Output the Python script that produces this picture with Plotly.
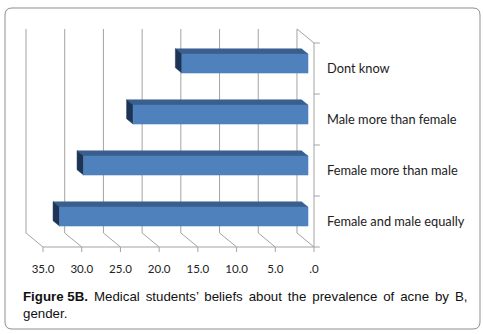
import plotly.graph_objects as go

# ---------------- data ----------------
categories = ["Female and male equally", "Female more than male",
              "Male more than female", "Dont know"]
values = [32.1, 29.0, 22.6, 16.3]
tick_values = [0, 5, 10, 15, 20, 25, 30, 35]
tick_labels = [".0", "5.0", "10.0", "15.0", "20.0", "25.0", "30.0", "35.0"]
caption_bold = "Figure 5B."
caption_line1 = "Medical students\u2019 beliefs about the prevalence of acne by B,"
caption_line2 = "gender."

# ---------------- layout geometry (pixels) ----------------
W, HGT = 483, 334
L, R, T, B = 15, 322, 25, 252
X_RANGE = [38.62, -1.033]
Y_RANGE = [-0.598, 3.853]

# oblique projection for the 3-D look (depth d: 0 = front, 1 = back)
DX, DY = 2.2, 0.275
D1, D2 = 0.35, 0.73
HB = 0.186

GRID = "#a3a3a3"
FRONT = "#4f81bd"
TOP = "#3a5f8f"
SIDE = "#1d3457"


def proj(v, c, d):
    return v + d * DX, c + d * DY


def px_x(p):
    return (p - L) / (R - L)


def px_y(p):
    return (B - p) / (B - T)


fig = go.Figure()


def add_segments(segs, color=GRID, width=1):
    xs, ys = [], []
    for (a, b) in segs:
        xs += [a[0], b[0], None]
        ys += [a[1], b[1], None]
    fig.add_trace(go.Scatter(x=xs, y=ys, mode="lines",
                             line=dict(color=color, width=width),
                             hoverinfo="skip", showlegend=False))


def add_poly(pts, color):
    xs = [p[0] for p in pts] + [pts[0][0]]
    ys = [p[1] for p in pts] + [pts[0][1]]
    fig.add_trace(go.Scatter(x=xs, y=ys, mode="lines", fill="toself",
                             fillcolor=color, line=dict(color=color, width=0.5),
                             hoverinfo="skip", showlegend=False))


n = len(categories)
pos = list(range(n))
lo, hi = -0.5, n - 0.5

# back wall gridlines + floor diagonals + front floor line with ticks
segs = []
for v in tick_values:
    segs.append((proj(v, lo, 1), proj(v, hi, 1)))
    segs.append((proj(v, lo, 1), proj(v, lo, 0)))
    segs.append((proj(v, lo, 0), (v, lo - 0.1)))
segs.append((proj(max(tick_values), lo, 0), proj(0, lo, 0)))
# right side wall
segs.append((proj(0, lo, 0), proj(0, hi, 0)))
segs.append((proj(0, hi, 1), proj(0, hi, 0)))
for k in range(n + 1):
    segs.append(((0, k - 0.5), (-0.75, k - 0.5)))
add_segments(segs)

# bars
for c, v in zip(pos, values):
    # top face
    add_poly([proj(v, c + HB, D1), proj(0, c + HB, D1),
              proj(0, c + HB, D2), proj(v, c + HB, D2)], TOP)
    # end cap
    add_poly([proj(v, c - HB, D1), proj(v, c + HB, D1),
              proj(v, c + HB, D2), proj(v, c - HB, D2)], SIDE)
    # front face
    add_poly([proj(v, c - HB, D1), proj(0, c - HB, D1),
              proj(0, c + HB, D1), proj(v, c + HB, D1)], FRONT)

# border (rounded rectangle around the whole figure)
bx0, bx1, by0, by1, r = 5, 480, 8, 329, 7
corner = [
    ("M", bx0 + r, by0), ("L", bx1 - r, by0), ("Q", bx1, by0, bx1, by0 + r),
    ("L", bx1, by1 - r), ("Q", bx1, by1, bx1 - r, by1), ("L", bx0 + r, by1),
    ("Q", bx0, by1, bx0, by1 - r), ("L", bx0, by0 + r), ("Q", bx0, by0, bx0 + r, by0),
]
path = ""
for cmd in corner:
    c0 = cmd[0]
    nums = cmd[1:]
    parts = []
    for i in range(0, len(nums), 2):
        parts.append(f"{px_x(nums[i]):.5f},{px_y(nums[i+1]):.5f}")
    path += c0 + " " + " ".join(parts) + " "
path += "Z"

fig.add_shape(type="path", path=path, xref="paper", yref="paper",
              line=dict(color="#8f8f8f", width=1), fillcolor="rgba(0,0,0,0)")

# justified-looking caption: widen word gaps with hair spaces
gap = " \u200a\u200a"
line1 = gap.join(caption_line1.split(" "))
caption = f"<b>{caption_bold}</b>{gap}{line1}<br>{caption_line2}"
fig.add_annotation(text=caption, xref="paper", yref="paper",
                   x=px_x(21), y=px_y(287), xanchor="left", yanchor="top",
                   align="left", showarrow=False,
                   font=dict(family="Liberation Sans, Arial", size=13.3, color="#111"))

fig.update_layout(
    width=W, height=HGT,
    margin=dict(l=L, r=W - R, t=T, b=HGT - B),
    paper_bgcolor="white", plot_bgcolor="white",
    xaxis=dict(range=X_RANGE, tickvals=tick_values, ticktext=tick_labels,
               showgrid=False, zeroline=False, showline=False, ticks="",
               ticklabelstandoff=8,
               tickfont=dict(family="Lato", size=11.5, color="#222")),
    yaxis=dict(range=Y_RANGE, tickvals=pos, ticktext=categories, side="right",
               showgrid=False, zeroline=False, showline=False, ticks="",
               ticklabelstandoff=4,
               tickfont=dict(family="Lato", size=12.8, color="#222")),
)

fig.write_html("out.html",
               config={"displayModeBar": False},
               post_script="document.body.style.margin='0';"
                           "document.body.style.overflow='hidden';")
